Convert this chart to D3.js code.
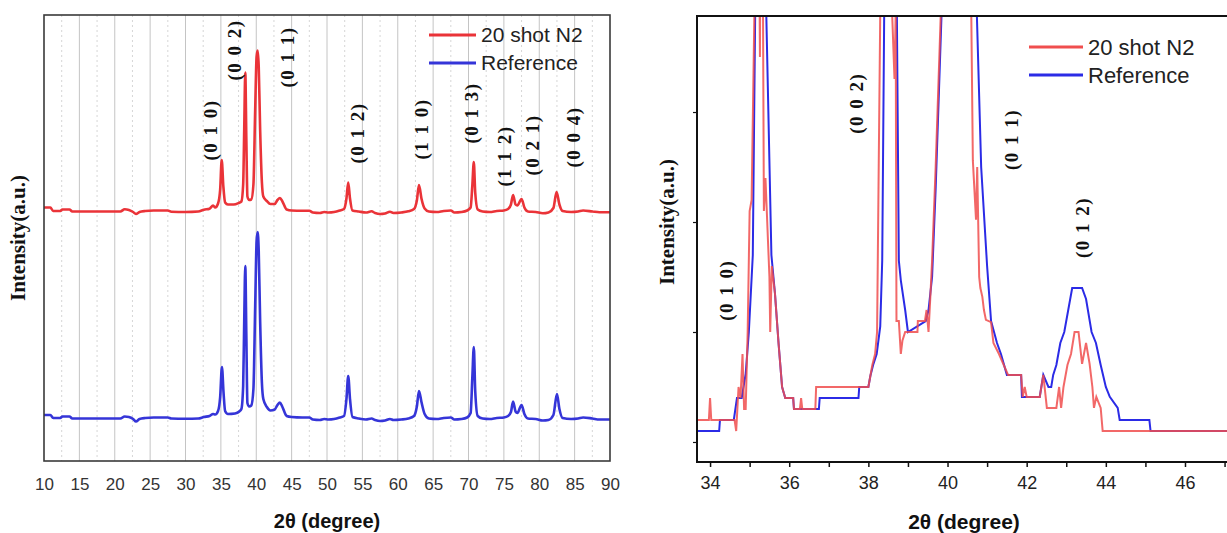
<!DOCTYPE html>
<html>
<head>
<meta charset="utf-8">
<script src="https://cdn.jsdelivr.net/npm/d3@7"></script>
<style>
  html, body { margin: 0; padding: 0; background: #fff; }
  svg { display: block; }
</style>
</head>
<body>
<div id="chart"></div>
<script>
// ---- data (2theta in degrees, intensity in arbitrary units) ----
const seriesNames = ["20 shot N2", "Reference"];

// full scan 10-90 deg, N2 is drawn shifted up by n2Offset
const n2Offset = 2065;
const n2Full = [
  [10.0,470],[10.9,470],[11.3,435],[12.3,435],[12.6,450],[13.6,450],[14.0,430],[17.0,430],[20.8,430],
  [21.4,452],[22.0,445],[22.6,425],[23.0,405],[23.5,425],[24.3,435],[25.5,440],[27.5,440],[28.0,428],
  [30.0,425],[31.8,430],[32.6,448],[33.4,458],[33.9,490],[34.2,470],[34.6,510],[34.9,650],[35.12,945],
  [35.35,680],[35.6,520],[36.0,500],[36.8,500],[37.5,515],[37.9,530],[38.15,700],[38.3,1250],[38.45,1820],
  [38.6,1150],[38.75,580],[39.0,545],[39.3,550],[39.6,700],[39.85,1450],[40.05,1980],[40.2,2040],
  [40.35,1880],[40.55,1250],[40.8,720],[41.0,580],[41.5,535],[42.0,505],[42.6,505],[43.0,545],[43.35,565],
  [43.7,530],[44.3,450],[45.0,440],[46.5,438],[47.5,438],[48.0,420],[49.0,415],[49.6,425],[50.2,420],
  [51.0,425],[51.8,440],[52.4,455],[52.75,560],[53.0,720],[53.25,560],[53.6,440],[54.5,430],[55.5,420],
  [56.3,432],[56.8,415],[57.5,405],[58.2,410],[58.9,428],[59.4,415],[60.5,420],[61.5,432],[62.3,455],
  [62.7,540],[63.0,695],[63.35,560],[63.8,460],[64.4,430],[65.5,425],[66.5,435],[67.5,440],[68.0,420],
  [69.0,425],[69.8,440],[70.3,470],[70.55,700],[70.75,925],[70.95,620],[71.3,450],[72.0,430],[73.0,425],
  [74.0,435],[75.0,440],[75.6,455],[76.0,500],[76.3,595],[76.65,500],[76.9,490],[77.5,555],[77.9,470],
  [78.4,430],[79.5,425],[80.5,412],[81.3,420],[82.0,465],[82.45,625],[82.85,500],[83.3,435],[84.5,425],
  [85.5,430],[86.2,440],[87.5,430],[88.5,422],[90.0,422]
];
const refFull = [
  [10.0,460],[10.9,460],[11.3,430],[12.3,430],[12.6,445],[13.6,445],[14.0,425],[17.0,425],[20.8,425],
  [21.4,445],[22.0,440],[22.6,420],[23.0,395],[23.5,420],[24.3,430],[25.5,435],[27.5,435],[28.0,425],
  [30.0,422],[31.8,425],[32.6,440],[33.4,450],[33.9,470],[34.2,465],[34.6,500],[34.9,640],[35.15,940],
  [35.38,680],[35.6,500],[36.0,470],[37.0,475],[37.6,495],[37.9,520],[38.15,750],[38.3,1400],[38.45,1950],
  [38.6,1250],[38.75,580],[39.0,545],[39.3,555],[39.6,720],[39.85,1550],[40.05,2200],[40.2,2290],
  [40.35,2100],[40.55,1400],[40.8,780],[41.0,620],[41.5,540],[42.0,505],[42.6,515],[43.0,560],[43.35,585],
  [43.7,540],[44.3,450],[45.0,440],[46.5,435],[47.5,435],[48.0,415],[49.0,410],[49.6,420],[50.2,415],
  [51.0,420],[51.8,435],[52.4,450],[52.75,620],[53.0,850],[53.25,620],[53.6,440],[54.5,425],[55.5,415],
  [56.3,425],[56.8,410],[57.5,400],[58.2,405],[58.9,420],[59.4,410],[60.5,415],[61.5,425],[62.3,450],
  [62.7,545],[63.0,700],[63.35,590],[63.8,470],[64.4,425],[65.5,420],[66.5,430],[67.5,435],[68.0,415],
  [69.0,420],[69.8,435],[70.3,480],[70.55,850],[70.75,1140],[70.95,700],[71.3,450],[72.0,425],[73.0,420],
  [74.0,430],[75.0,435],[75.6,450],[76.0,490],[76.3,595],[76.65,495],[76.9,480],[77.5,560],[77.9,470],
  [78.4,425],[79.5,420],[80.5,405],[81.3,410],[82.0,460],[82.5,670],[82.85,520],[83.3,430],[84.5,420],
  [85.5,425],[86.2,435],[87.5,425],[88.5,415],[90.0,415]
];

// zoomed scan 33.7-47 deg (counts)
const n2Zoom = [
  [33.6,20],[33.97,20],[34.0,40],[34.03,20],[34.62,20],[34.66,10],[34.72,50],[34.77,40],[34.82,80],
  [34.86,30],[34.9,30],[34.95,100],[35.0,210],[35.05,220],[35.12,390],[35.2,700],[35.26,350],[35.3,700],
  [35.36,210],[35.4,240],[35.5,150],[35.52,100],[35.56,160],[35.64,135],[35.73,90],[35.82,50],[35.9,40],
  [36.1,40],[36.12,30],[36.27,30],[36.3,40],[36.33,30],[36.66,30],[36.68,50],[38.0,50],[38.05,60],
  [38.1,70],[38.17,80],[38.22,100],[38.3,390],[38.45,800],[38.6,390],[38.66,330],[38.69,390],[38.71,110],
  [38.77,110],[38.82,80],[38.86,92],[38.93,100],[39.24,100],[39.25,110],[39.43,110],[39.47,120],
  [39.52,100],[39.57,135],[39.61,165],[39.7,250],[39.83,390],[40.25,1300],[40.6,390],[40.64,256],
  [40.72,202],[40.75,250],[40.8,150],[40.83,140],[40.88,132],[40.92,120],[40.97,111],[41.1,109],
  [41.16,90],[41.3,80],[41.53,61],[41.86,61],[41.9,41],[41.95,50],[42.0,41],[42.33,41],[42.42,61],
  [42.51,31],[42.75,31],[42.82,50],[42.87,31],[42.93,50],[43.03,70],[43.12,80],[43.21,100],[43.31,100],
  [43.4,71],[43.5,90],[43.59,71],[43.66,50],[43.7,31],[43.76,41],[43.87,31],[43.92,10],[47.3,10]
];
const refZoom = [
  [33.6,10],[34.23,10],[34.25,20],[34.6,20],[34.68,40],[34.8,40],[34.9,62],[34.98,100],[35.08,170],
  [35.14,390],[35.27,900],[35.42,390],[35.55,170],[35.64,135],[35.73,90],[35.82,50],[35.9,40],[36.1,40],
  [36.12,30],[36.75,30],[36.77,40],[37.75,40],[37.77,50],[38.0,50],[38.05,60],[38.12,70],[38.21,80],
  [38.3,105],[38.35,165],[38.4,390],[38.56,900],[38.72,390],[38.77,165],[38.82,147],[38.93,120],
  [39.0,100],[39.45,110],[39.52,120],[39.61,150],[39.7,230],[39.85,390],[40.3,1500],[40.74,390],
  [40.85,250],[41.0,160],[41.1,110],[41.25,90],[41.35,80],[41.5,61],[41.86,61],[41.88,41],[42.33,41],
  [42.42,61],[42.55,50],[42.62,50],[42.67,61],[42.75,70],[42.85,90],[42.95,100],[43.05,120],[43.15,140],
  [43.4,140],[43.5,130],[43.64,100],[43.75,90],[43.87,70],[44.0,50],[44.1,41],[44.3,31],[44.35,20],
  [45.1,20],[45.13,10],[47.3,10]
];

const fullTicks = d3.range(10, 91, 5);
const zoomTicks = d3.range(34, 48, 1);
const zoomCountTicks = [0, 100, 200, 300];

// peak labels: [text, 2theta, intensity position of label centre]
const fullPeakLabels = [
  ["(0 1 0)", 33.4, 3310], ["(0 0 2)", 36.9, 4110], ["(0 1 1)", 44.3, 4040],
  ["(0 1 2)", 54.3, 3280], ["(1 1 0)", 63.3, 3320], ["(0 1 3)", 70.3, 3480],
  ["(1 1 2)", 75.0, 3050], ["(0 2 1)", 79.0, 3160], ["(0 0 4)", 84.8, 3240]
];
const zoomPeakLabels = [
  ["(0 1 0)", 34.4, 138], ["(0 0 2)", 37.7, 308], ["(0 1 1)", 41.6, 275], ["(0 1 2)", 43.4, 195]
];

const red = "#ea3338", blue = "#3535d8";
const redZ = "#f04e4e", blueZ = "#2b2be6";

const W = 1227, H = 533;
const svg = d3.select("#chart").append("svg").attr("width", W).attr("height", H)
  .style("font-family", "'Liberation Sans', Arial, sans-serif");

const defs = svg.append("defs");

// ================= left panel =================
const L = { left: 44, right: 610, top: 15, bottom: 461 };
const xL = d3.scaleLinear().domain([10, 90]).range([L.left, L.right]);
const yL = d3.scaleLinear().domain([0, 4460]).range([L.bottom, L.top]);

const gL = svg.append("g");

// grid
gL.selectAll(".minor").data(d3.range(12.5, 90, 5)).join("line")
  .attr("x1", d => xL(d)).attr("x2", d => xL(d))
  .attr("y1", L.top).attr("y2", L.bottom)
  .attr("stroke", "#d6d6d6").attr("stroke-width", 1).attr("stroke-dasharray", "2,3");
gL.selectAll(".major").data(fullTicks.filter(d => d > 10 && d < 90)).join("line")
  .attr("x1", d => xL(d)).attr("x2", d => xL(d))
  .attr("y1", L.top).attr("y2", L.bottom)
  .attr("stroke", "#c4c4c4").attr("stroke-width", 1);

defs.append("clipPath").attr("id", "clipL").append("rect")
  .attr("x", L.left).attr("y", L.top).attr("width", L.right - L.left).attr("height", L.bottom - L.top);

const lineL = d3.line().x(d => xL(d[0])).y(d => yL(d[1])).curve(d3.curveMonotoneX);

gL.append("path").datum(refFull)
  .attr("clip-path", "url(#clipL)")
  .attr("fill", "none").attr("stroke", blue).attr("stroke-width", 2.6).attr("d", lineL);
gL.append("path").datum(n2Full.map(d => [d[0], d[1] + n2Offset]))
  .attr("clip-path", "url(#clipL)")
  .attr("fill", "none").attr("stroke", red).attr("stroke-width", 2.6).attr("d", lineL);

// frame
gL.append("rect").attr("x", L.left).attr("y", L.top)
  .attr("width", L.right - L.left).attr("height", L.bottom - L.top)
  .attr("fill", "none").attr("stroke", "#3a3a3a").attr("stroke-width", 1.6);

// x axis labels
gL.append("g")
  .attr("transform", `translate(0,${L.bottom})`)
  .call(d3.axisBottom(xL).tickValues(fullTicks).tickSize(0).tickPadding(17))
  .call(g => g.select(".domain").remove())
  .call(g => g.selectAll("text").attr("font-size", 17).attr("fill", "#333")
    .attr("font-family", "'Liberation Sans', Arial, sans-serif"));

gL.append("text").attr("x", 327).attr("y", 528).attr("text-anchor", "middle")
  .attr("font-size", 20).attr("font-weight", "bold").attr("fill", "#111")
  .text("2θ (degree)");

gL.append("text").attr("transform", "translate(25,238) rotate(-90)")
  .attr("text-anchor", "middle")
  .attr("font-family", "'Liberation Serif', 'Times New Roman', serif")
  .attr("font-size", 21).attr("font-weight", "bold").attr("fill", "#111")
  .text("Intensity(a.u.)");

gL.selectAll(".peak").data(fullPeakLabels).join("text")
  .attr("transform", d => `translate(${xL(d[1]) + 7},${yL(d[2])}) rotate(-90)`)
  .attr("text-anchor", "middle")
  .attr("font-family", "'Liberation Serif', 'Times New Roman', serif")
  .attr("font-size", 19).attr("font-weight", "bold").attr("letter-spacing", 1.5).attr("fill", "#111")
  .text(d => d[0]);

// legend
const legL = gL.append("g");
[[red, 35], [blue, 63]].forEach((c, i) => {
  legL.append("line").attr("x1", 429).attr("x2", 476).attr("y1", c[1]).attr("y2", c[1])
    .attr("stroke", c[0]).attr("stroke-width", 3);
  legL.append("text").attr("x", 481).attr("y", c[1] + 7).attr("font-size", 21).attr("fill", "#222")
    .text(seriesNames[i]);
});

// ================= right panel =================
const R = { left: 697, right: 1240, top: 16, bottom: 462 };
const xR = d3.scaleLinear().domain([33.67, 47.39]).range([R.left, R.right]);
const yR = d3.scaleLinear().domain([-18.2, 387.3]).range([R.bottom, R.top]);

const gR = svg.append("g");
defs.append("clipPath").attr("id", "clipR").append("rect")
  .attr("x", R.left).attr("y", R.top).attr("width", R.right - R.left).attr("height", R.bottom - R.top);

const lineR = d3.line().x(d => xR(d[0])).y(d => yR(d[1]));

gR.append("path").datum(refZoom)
  .attr("clip-path", "url(#clipR)")
  .attr("fill", "none").attr("stroke", blueZ).attr("stroke-width", 2).attr("d", lineR);
gR.append("path").datum(n2Zoom)
  .attr("clip-path", "url(#clipR)")
  .attr("fill", "none").attr("stroke", redZ).attr("stroke-opacity", 0.85)
  .attr("stroke-width", 2).attr("d", lineR);

// frame
gR.append("path")
  .attr("d", `M${R.right},${R.top}H${R.left}V${R.bottom}H${R.right}`)
  .attr("fill", "none").attr("stroke", "#111").attr("stroke-width", 2);

gR.append("g")
  .attr("transform", `translate(0,${R.bottom})`)
  .call(d3.axisBottom(xR).tickValues(zoomTicks).tickSize(5).tickPadding(9)
    .tickFormat(d => d % 2 === 0 ? d : ""))
  .call(g => g.select(".domain").remove())
  .call(g => g.selectAll("line").attr("stroke", "#111").attr("stroke-width", 1.5))
  .call(g => g.selectAll("text").attr("font-size", 18).attr("fill", "#222")
    .attr("font-family", "'Liberation Sans', Arial, sans-serif"));

gR.append("g")
  .attr("transform", `translate(${R.left},0)`)
  .call(d3.axisLeft(yR).tickValues(zoomCountTicks).tickSize(4).tickFormat(""))
  .call(g => g.select(".domain").remove())
  .call(g => g.selectAll("line").attr("stroke", "#111").attr("stroke-width", 1.2));

gR.append("text").attr("x", 964).attr("y", 529).attr("text-anchor", "middle")
  .attr("font-size", 21).attr("font-weight", "bold").attr("fill", "#111")
  .text("2θ (degree)");

gR.append("text").attr("transform", "translate(674,222) rotate(-90)")
  .attr("text-anchor", "middle")
  .attr("font-family", "'Liberation Serif', 'Times New Roman', serif")
  .attr("font-size", 21).attr("font-weight", "bold").attr("fill", "#111")
  .text("Intensity(a.u.)");

gR.selectAll(".peak").data(zoomPeakLabels).join("text")
  .attr("transform", d => `translate(${xR(d[1]) + 7},${yR(d[2])}) rotate(-90)`)
  .attr("text-anchor", "middle")
  .attr("font-family", "'Liberation Serif', 'Times New Roman', serif")
  .attr("font-size", 19).attr("font-weight", "bold").attr("letter-spacing", 1.5).attr("fill", "#111")
  .text(d => d[0]);

const legR = gR.append("g");
[[redZ, 47], [blueZ, 75]].forEach((c, i) => {
  legR.append("line").attr("x1", 1029).attr("x2", 1083).attr("y1", c[1]).attr("y2", c[1])
    .attr("stroke", c[0]).attr("stroke-width", 3);
  legR.append("text").attr("x", 1088).attr("y", c[1] + 8).attr("font-size", 22).attr("fill", "#222")
    .text(seriesNames[i]);
});
</script>
</body>
</html>
